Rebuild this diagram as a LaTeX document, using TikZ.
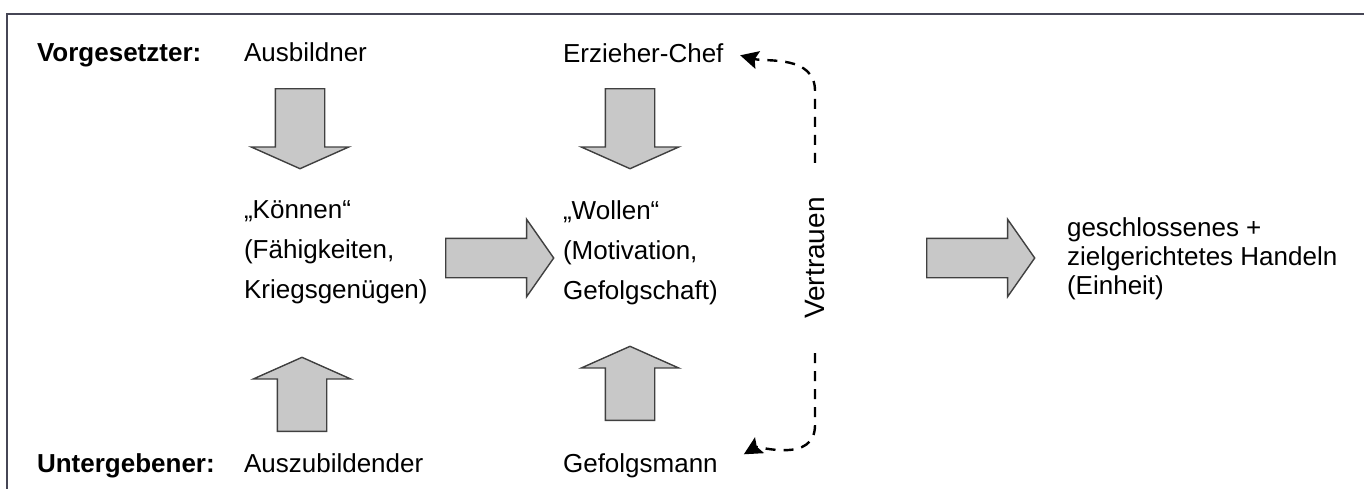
\documentclass[tikz,border=0pt]{standalone}
\usepackage{fontspec}
\setmainfont{Liberation Sans}
\usetikzlibrary{arrows.meta, shapes.arrows, positioning}

\definecolor{pfeilgrau}{RGB}{200,200,200}
\definecolor{rahmengrau}{RGB}{70,70,85}

\tikzset{
    txt/.style={font=\fontsize{13}{20}\selectfont, anchor=base west},
    kopf/.style={txt, font=\fontsize{13}{20}\selectfont\bfseries},
    block/.style={font=\fontsize{13}{20}\selectfont, anchor=west, align=left},
    pfeil/.style={single arrow, draw=black!75, fill=pfeilgrau, line width=0.7pt, inner xsep=0pt, anchor=tail},
    pfeilq/.style={pfeil, minimum height=54pt, inner ysep=9.5pt, single arrow head extend=9.5pt, single arrow tip angle=110},
    pfeilv/.style={pfeil, minimum height=40pt, inner ysep=12pt, single arrow head extend=12pt, single arrow tip angle=132},
    trust/.style={draw=black, line width=1.2pt, dash pattern=on 5pt off 4pt, -{Stealth[length=9pt, width=9pt, inset=1.5pt, sep=0pt]}},
    rahmen/.style={draw=rahmengrau, line width=1pt}
}

\begin{document}
\begin{tikzpicture}[x=0.5pt, y=0.5pt]
    \useasboundingbox (0,0) rectangle (1364,-489);
    \draw[rahmen] (1364,-14) -| (7,-489);

    % Zeilen oben und unten
    \node[kopf] (vorg) at (30,-61) {Vorgesetzter:};
    \node[txt] (ausb) at (237,-61) {Ausbildner};
    \node[txt] (chef) at (556,-62) {Erzieher-Chef};
    \node[kopf] (unter) at (30,-472) {Untergebener:};
    \node[txt] (azubi) at (237,-472) {Auszubildender};
    \node[txt] (gmann) at (556,-472) {Gefolgsmann};

    % Mitte
    \node[block] (koennen) at (237,-252) {„Können“\\(Fähigkeiten,\\Kriegsgenügen)};
    \node[block] (wollen) at (556,-253) {„Wollen“\\(Motivation,\\Gefolgschaft)};
    \node[block, font=\fontsize{13}{14.5}\selectfont] (handeln) at (1060,-259) {geschlossenes +\\zielgerichtetes Handeln\\(Einheit)};

    % Blockpfeile
    \node[pfeilv, rotate=-90] (pfeilA) at (300,-88) {};
    \node[pfeilv, rotate=-90] (pfeilB) at (630,-88) {};
    \node[pfeilv, rotate=90, minimum height=37pt] (pfeilC) at (302,-432) {};
    \node[pfeilv, rotate=90, minimum height=37pt] (pfeilD) at (630,-421) {};
    \node[pfeilq] (pfeilE) at (445,-258) {};
    \node[pfeilq] (pfeilF) at (926,-258) {};

    % Vertrauen
    \node[txt, font=\fontsize{14}{20}\selectfont, anchor=center, rotate=90, inner xsep=17pt] (vertrauen) at (815,-258) {Vertrauen};
    \draw[trust, shorten >=5pt] (vertrauen.east) -- ++(0,72) to[out=90, in=-15] (chef.east);
    \draw[trust, shorten >=11pt] (vertrauen.west) -- ++(0,-72) to[out=-90, in=30] (gmann.east);
\end{tikzpicture}
\end{document}
